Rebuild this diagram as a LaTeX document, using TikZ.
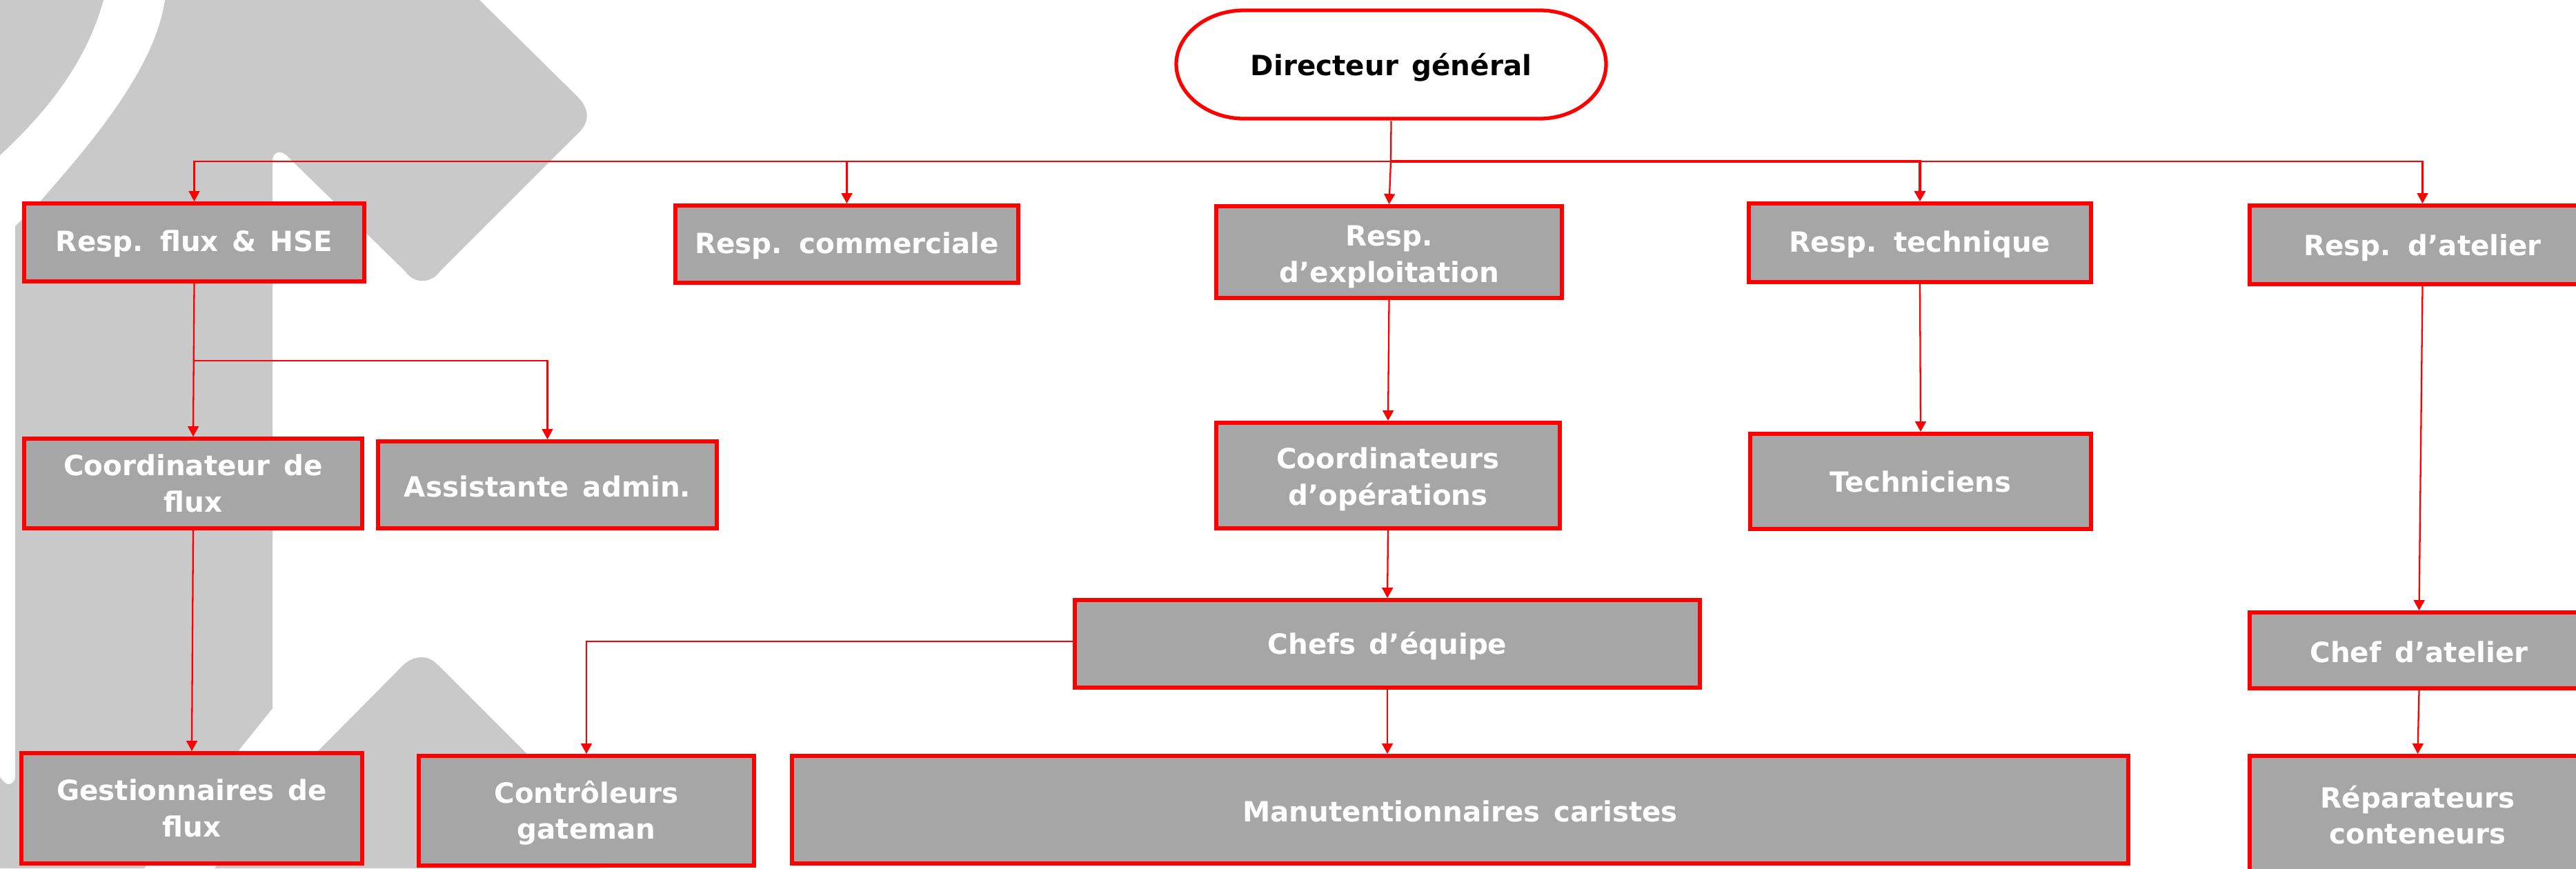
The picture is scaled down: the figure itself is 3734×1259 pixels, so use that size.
\documentclass[tikz,border=0pt]{standalone}
\usepackage{fontspec}
\setmainfont{DejaVu Sans}[WordSpace=1.4]
\usetikzlibrary{arrows.meta,calc}
\definecolor{wm}{HTML}{C9C9C9}
\definecolor{boxg}{HTML}{A6A6A6}
\tikzset{
  x=0.02cm,y=-0.02cm,
  boxs/.style={draw=red,line width=3.2pt,fill=boxg,text=white,inner sep=0pt,align=center,
    font=\fontsize{23}{30}\selectfont\bfseries},
  head/.style={inner sep=0pt,text=black,font=\fontsize{23}{30}\selectfont\bfseries},
  link/.style={draw=red,line width=1.3pt,-{Triangle[length=8.5pt,width=9pt]}},
  plain/.style={draw=red,line width=1.3pt},
  thick bus/.style={line width=2.2pt},
}
% name, x1, y1, x2, y2 (outer edges, px), downward text shift (px), text
\newcommand{\bx}[7]{%
  \node[boxs,minimum width={0.02cm*(#4-#2)-3.2pt},minimum height={0.02cm*(#5-#3)-3.2pt}] (#1)
    at ({(#2+#4)/2},{(#3+#5)/2}) {\rule{0pt}{\dimexpr 17.6pt+#6\dimexpr 1.138pt\relax\relax}#7};
}
\begin{document}
\begin{tikzpicture}
\useasboundingbox (0,0) rectangle (3734,1259);
\clip (0,0) rectangle (3734,1259);
\fill[white] (0,0) rectangle (3734,1259);
% watermark
\fill[wm] (0,0) -- (150,0) .. controls (125,90) and (70,160) .. (0,225) -- cycle;
\fill[wm] (239,0) -- (695,0) -- (835,138) .. controls (856,158) and (856,178) .. (835,196)
  -- (638,393) .. controls (625,412) and (600,412) .. (587,393) -- (415,225)
  .. controls (405,216) and (395,222) .. (395,232) -- (395,1027) -- (209,1259)
  -- (0,1259) -- (0,1127) .. controls (6,1134) and (10,1138) .. (13,1137)
  .. controls (19,1136) and (22,1132) .. (22,1125) -- (22,328)
  -- (60,290) .. controls (130,210) and (225,100) .. (239,0) -- cycle;
\fill[wm] (611,953) .. controls (596,953) and (586,962) .. (576,973) -- (462,1088) -- (311,1259)
  -- (870,1259) -- (763,1092) -- (638,967) .. controls (630,960) and (624,953) .. (611,953) -- cycle;
% director
\draw[red,line width=3pt,fill=white] (1803,15) -- (2232,15)
  .. controls (2285,15) and (2328,50) .. (2328,93)
  .. controls (2328,136) and (2285,172) .. (2232,172) -- (1803,172)
  .. controls (1750,172) and (1705,136) .. (1705,93)
  .. controls (1705,50) and (1750,15) .. (1803,15) -- cycle;
\node[head,minimum width={0.02cm*630},minimum height={0.02cm*163}] (dg) at (2016.5,93.5) {\rule{0pt}{23.2pt}Directeur général};
% boxes
\bx{flux}{32}{292}{531}{411}{2}{Resp. flux \& HSE}
\bx{comm}{976}{295}{1479}{413}{2}{Resp. commerciale}
\bx{expl}{1760}{296}{2267}{435}{6}{Resp.\\d’exploitation}
\bx{tech}{2532}{292}{3034}{412}{2}{Resp. technique}
\bx{atel}{3258}{295}{3765}{415}{4}{Resp. d’atelier}
\bx{coord}{32}{633}{528}{769}{0}{Coordinateur de\\flux}
\bx{asst}{545}{637}{1042}{769}{2}{Assistante admin.}
\bx{coop}{1760}{610}{2264}{769}{5}{Coordinateurs\\d’opérations}
\bx{techn}{2534}{626}{3034}{770}{0}{Techniciens}
\bx{chefs}{1555}{867}{2467}{1000}{4}{Chefs d’équipe}
\bx{chefa}{3258}{885}{3755}{1001}{2}{Chef d’atelier}
\bx{gest}{28}{1089}{528}{1255}{0}{Gestionnaires de\\flux}
\bx{ctrl}{604}{1093}{1096}{1258}{4}{Contrôleurs\\gateman}
\bx{manu}{1145}{1093}{3088}{1255}{2}{Manutentionnaires caristes}
\bx{rep}{3258}{1093}{3751}{1270}{0}{Réparateurs\\conteneurs}
% connectors
\coordinate (busl) at (2016,234);
\coordinate (fluxj) at ($(flux.south)+(-2,112)$);
\draw[plain] (dg.south) -- (busl);
\draw[link] (busl) -- (expl.north);
\draw[link] (busl) -| (flux.north);
\draw[link] (busl) -| (comm.north);
\draw[link,thick bus] (busl) -| (tech.north);
\draw[link] (busl) -| (atel.north);
\draw[link] (flux.south) -- (coord.north);
\draw[link] (fluxj) -| (asst.north);
\draw[link] (coord.south) -- (gest.north);
\draw[link] (expl.south) -- (coop.north);
\draw[link] (coop.south) -- (chefs.north);
\draw[link] (chefs.south) -- (chefs.south |- manu.north);
\draw[link] (chefs.west |- 0,930) -| (ctrl.north);
\draw[link] (tech.south) -- (techn.north);
\draw[link] (atel.south) -- (chefa.north);
\draw[link] (chefa.south) -- (rep.north);
\end{tikzpicture}
\end{document}
